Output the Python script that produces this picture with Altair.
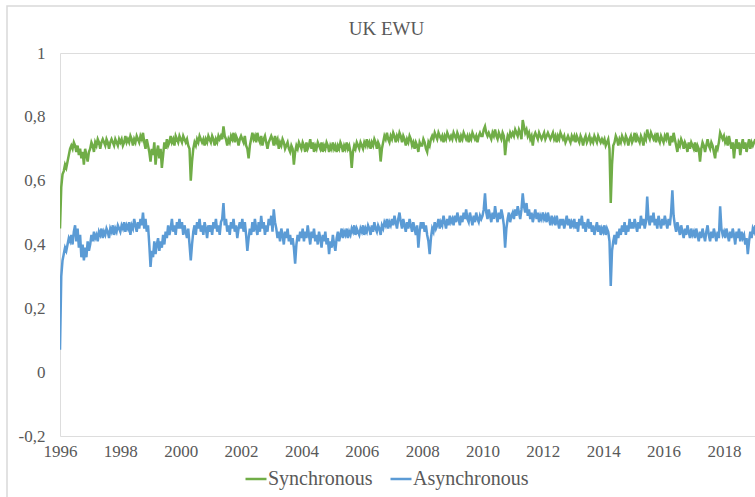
import altair as alt
import pandas as pd

# Semi-monthly observations (24 per year), starting January 1996
STEP = 1 / 24
START_YEAR = 1996

sync_1996 = [0.45, 0.58, 0.62, 0.63, 0.65, 0.64, 0.66, 0.68, 0.70, 0.71, 0.70, 0.72, 0.71, 0.69, 0.71, 0.68, 0.70, 0.67, 0.69, 0.65, 0.70, 0.68, 0.66, 0.69]
sync_1997 = [0.70, 0.72, 0.71, 0.69, 0.72, 0.71, 0.73, 0.72, 0.70, 0.72, 0.73, 0.72, 0.71, 0.73, 0.72, 0.70, 0.72, 0.73, 0.72, 0.71, 0.73, 0.72, 0.71, 0.73]
sync_1998 = [0.72, 0.73, 0.71, 0.72, 0.74, 0.72, 0.73, 0.72, 0.74, 0.73, 0.71, 0.73, 0.72, 0.74, 0.73, 0.72, 0.74, 0.73, 0.75, 0.72, 0.70, 0.73, 0.71, 0.69]
sync_1999 = [0.66, 0.70, 0.68, 0.72, 0.65, 0.69, 0.71, 0.67, 0.70, 0.64, 0.68, 0.72, 0.70, 0.73, 0.71, 0.72, 0.74, 0.72, 0.73, 0.71, 0.74, 0.73, 0.72, 0.74]
sync_2000 = [0.73, 0.72, 0.74, 0.73, 0.72, 0.73, 0.71, 0.70, 0.60, 0.66, 0.70, 0.72, 0.71, 0.73, 0.72, 0.74, 0.73, 0.72, 0.73, 0.71, 0.73, 0.72, 0.74, 0.73]
sync_2001 = [0.72, 0.74, 0.73, 0.71, 0.73, 0.72, 0.74, 0.73, 0.74, 0.73, 0.77, 0.74, 0.73, 0.71, 0.73, 0.72, 0.74, 0.73, 0.75, 0.72, 0.74, 0.73, 0.71, 0.73]
sync_2002 = [0.74, 0.73, 0.72, 0.74, 0.71, 0.70, 0.67, 0.71, 0.73, 0.75, 0.73, 0.74, 0.72, 0.75, 0.73, 0.72, 0.74, 0.71, 0.73, 0.74, 0.72, 0.70, 0.72, 0.73]
sync_2003 = [0.74, 0.73, 0.71, 0.74, 0.72, 0.73, 0.70, 0.72, 0.71, 0.73, 0.72, 0.70, 0.71, 0.72, 0.70, 0.69, 0.71, 0.70, 0.65, 0.69, 0.71, 0.70, 0.72, 0.71]
sync_2004 = [0.70, 0.72, 0.71, 0.69, 0.72, 0.70, 0.71, 0.73, 0.70, 0.72, 0.69, 0.71, 0.70, 0.72, 0.71, 0.70, 0.72, 0.69, 0.71, 0.70, 0.72, 0.71, 0.69, 0.71]
sync_2005 = [0.70, 0.72, 0.70, 0.71, 0.69, 0.71, 0.70, 0.72, 0.71, 0.69, 0.71, 0.70, 0.72, 0.70, 0.71, 0.69, 0.64, 0.69, 0.71, 0.70, 0.72, 0.71, 0.70, 0.72]
sync_2006 = [0.71, 0.70, 0.72, 0.71, 0.73, 0.71, 0.72, 0.70, 0.72, 0.71, 0.73, 0.72, 0.70, 0.72, 0.71, 0.66, 0.70, 0.72, 0.74, 0.73, 0.75, 0.73, 0.72, 0.74]
sync_2007 = [0.73, 0.75, 0.74, 0.72, 0.74, 0.73, 0.75, 0.74, 0.72, 0.74, 0.73, 0.71, 0.73, 0.72, 0.74, 0.73, 0.71, 0.72, 0.70, 0.72, 0.71, 0.69, 0.72, 0.71]
sync_2008 = [0.71, 0.73, 0.72, 0.70, 0.69, 0.72, 0.71, 0.73, 0.74, 0.73, 0.75, 0.74, 0.73, 0.75, 0.74, 0.73, 0.74, 0.72, 0.74, 0.73, 0.75, 0.74, 0.73, 0.74]
sync_2009 = [0.73, 0.75, 0.74, 0.73, 0.75, 0.74, 0.72, 0.74, 0.73, 0.75, 0.74, 0.73, 0.74, 0.72, 0.74, 0.73, 0.75, 0.74, 0.73, 0.74, 0.72, 0.74, 0.75, 0.74]
sync_2010 = [0.74, 0.76, 0.77, 0.75, 0.74, 0.75, 0.74, 0.73, 0.75, 0.74, 0.76, 0.74, 0.73, 0.75, 0.74, 0.73, 0.75, 0.74, 0.68, 0.72, 0.74, 0.73, 0.75, 0.74]
sync_2011 = [0.75, 0.74, 0.76, 0.75, 0.74, 0.76, 0.75, 0.73, 0.79, 0.77, 0.75, 0.76, 0.74, 0.75, 0.73, 0.74, 0.71, 0.74, 0.75, 0.74, 0.73, 0.75, 0.74, 0.73]
sync_2012 = [0.74, 0.75, 0.73, 0.74, 0.75, 0.74, 0.73, 0.74, 0.75, 0.73, 0.74, 0.72, 0.74, 0.73, 0.75, 0.74, 0.73, 0.74, 0.72, 0.73, 0.74, 0.73, 0.72, 0.74]
sync_2013 = [0.73, 0.74, 0.72, 0.74, 0.73, 0.72, 0.74, 0.73, 0.71, 0.73, 0.74, 0.72, 0.73, 0.74, 0.72, 0.73, 0.72, 0.74, 0.73, 0.72, 0.74, 0.73, 0.72, 0.73]
sync_2014 = [0.72, 0.73, 0.71, 0.72, 0.73, 0.70, 0.53, 0.65, 0.71, 0.72, 0.74, 0.73, 0.71, 0.73, 0.72, 0.74, 0.73, 0.72, 0.74, 0.73, 0.71, 0.73, 0.74, 0.72]
sync_2015 = [0.73, 0.75, 0.72, 0.74, 0.73, 0.72, 0.74, 0.73, 0.71, 0.74, 0.73, 0.76, 0.74, 0.73, 0.75, 0.74, 0.73, 0.74, 0.72, 0.75, 0.73, 0.72, 0.74, 0.73]
sync_2016 = [0.72, 0.74, 0.73, 0.75, 0.73, 0.71, 0.74, 0.72, 0.75, 0.73, 0.71, 0.69, 0.72, 0.71, 0.73, 0.72, 0.70, 0.72, 0.71, 0.69, 0.72, 0.70, 0.72, 0.71]
sync_2017 = [0.70, 0.72, 0.69, 0.71, 0.70, 0.66, 0.70, 0.72, 0.71, 0.69, 0.71, 0.73, 0.71, 0.70, 0.72, 0.71, 0.69, 0.67, 0.71, 0.70, 0.72, 0.75, 0.74, 0.73]
sync_2018 = [0.74, 0.72, 0.73, 0.71, 0.74, 0.72, 0.70, 0.72, 0.67, 0.71, 0.73, 0.70, 0.72, 0.68, 0.71, 0.73, 0.70, 0.72, 0.69, 0.71, 0.73, 0.70, 0.72, 0.71]
sync_2019 = [0.72, 0.73]

async_1996 = [0.07, 0.30, 0.35, 0.37, 0.39, 0.38, 0.40, 0.42, 0.41, 0.43, 0.40, 0.44, 0.46, 0.41, 0.45, 0.39, 0.43, 0.36, 0.40, 0.35, 0.39, 0.36, 0.41, 0.38]
async_1997 = [0.40, 0.43, 0.41, 0.44, 0.42, 0.43, 0.41, 0.44, 0.43, 0.45, 0.42, 0.44, 0.43, 0.45, 0.44, 0.42, 0.45, 0.44, 0.46, 0.43, 0.45, 0.44, 0.46, 0.45]
async_1998 = [0.44, 0.46, 0.45, 0.47, 0.44, 0.46, 0.45, 0.47, 0.43, 0.46, 0.45, 0.48, 0.46, 0.44, 0.47, 0.45, 0.48, 0.46, 0.50, 0.45, 0.48, 0.44, 0.46, 0.40]
async_1999 = [0.33, 0.38, 0.36, 0.41, 0.37, 0.40, 0.42, 0.38, 0.41, 0.39, 0.43, 0.40, 0.44, 0.42, 0.46, 0.43, 0.45, 0.48, 0.44, 0.46, 0.43, 0.47, 0.45, 0.48]
async_2000 = [0.45, 0.47, 0.43, 0.46, 0.44, 0.42, 0.45, 0.40, 0.35, 0.40, 0.44, 0.46, 0.43, 0.47, 0.45, 0.48, 0.44, 0.46, 0.43, 0.47, 0.45, 0.42, 0.46, 0.44]
async_2001 = [0.46, 0.43, 0.47, 0.45, 0.48, 0.44, 0.46, 0.43, 0.47, 0.48, 0.53, 0.46, 0.48, 0.44, 0.46, 0.43, 0.47, 0.45, 0.48, 0.44, 0.46, 0.42, 0.45, 0.47]
async_2002 = [0.45, 0.48, 0.44, 0.47, 0.43, 0.38, 0.42, 0.45, 0.43, 0.47, 0.44, 0.48, 0.45, 0.43, 0.47, 0.44, 0.49, 0.45, 0.47, 0.43, 0.46, 0.44, 0.48, 0.46]
async_2003 = [0.49, 0.44, 0.51, 0.47, 0.45, 0.42, 0.44, 0.41, 0.45, 0.43, 0.40, 0.44, 0.42, 0.45, 0.41, 0.43, 0.40, 0.42, 0.39, 0.34, 0.40, 0.43, 0.41, 0.44]
async_2004 = [0.42, 0.45, 0.41, 0.44, 0.42, 0.46, 0.43, 0.40, 0.44, 0.42, 0.45, 0.41, 0.43, 0.40, 0.44, 0.42, 0.39, 0.43, 0.41, 0.44, 0.40, 0.42, 0.37, 0.41]
async_2005 = [0.39, 0.43, 0.40, 0.38, 0.42, 0.44, 0.41, 0.43, 0.45, 0.42, 0.44, 0.43, 0.45, 0.42, 0.44, 0.43, 0.45, 0.44, 0.46, 0.43, 0.45, 0.44, 0.43, 0.45]
async_2006 = [0.44, 0.46, 0.43, 0.45, 0.44, 0.46, 0.45, 0.43, 0.46, 0.44, 0.47, 0.45, 0.44, 0.46, 0.45, 0.43, 0.46, 0.45, 0.47, 0.46, 0.48, 0.45, 0.47, 0.46]
async_2007 = [0.48, 0.46, 0.49, 0.47, 0.45, 0.48, 0.50, 0.47, 0.45, 0.48, 0.46, 0.44, 0.47, 0.45, 0.48, 0.46, 0.44, 0.47, 0.45, 0.43, 0.46, 0.39, 0.44, 0.47]
async_2008 = [0.45, 0.47, 0.44, 0.46, 0.43, 0.41, 0.37, 0.42, 0.45, 0.44, 0.47, 0.45, 0.46, 0.48, 0.45, 0.47, 0.46, 0.49, 0.47, 0.45, 0.48, 0.46, 0.49, 0.47]
async_2009 = [0.48, 0.46, 0.49, 0.47, 0.50, 0.48, 0.46, 0.49, 0.47, 0.50, 0.48, 0.51, 0.48, 0.47, 0.50, 0.48, 0.46, 0.49, 0.47, 0.50, 0.48, 0.47, 0.49, 0.48]
async_2010 = [0.49, 0.51, 0.56, 0.50, 0.48, 0.51, 0.49, 0.47, 0.50, 0.48, 0.52, 0.49, 0.47, 0.50, 0.48, 0.51, 0.49, 0.46, 0.39, 0.45, 0.48, 0.50, 0.47, 0.49]
async_2011 = [0.50, 0.48, 0.51, 0.49, 0.52, 0.50, 0.48, 0.51, 0.56, 0.52, 0.50, 0.53, 0.49, 0.51, 0.48, 0.50, 0.47, 0.49, 0.51, 0.48, 0.50, 0.47, 0.49, 0.48]
async_2012 = [0.50, 0.48, 0.49, 0.47, 0.50, 0.48, 0.46, 0.49, 0.47, 0.48, 0.46, 0.49, 0.47, 0.45, 0.48, 0.46, 0.48, 0.45, 0.47, 0.49, 0.46, 0.48, 0.45, 0.47]
async_2013 = [0.46, 0.48, 0.45, 0.47, 0.44, 0.48, 0.46, 0.49, 0.45, 0.47, 0.44, 0.46, 0.48, 0.45, 0.47, 0.44, 0.46, 0.43, 0.45, 0.47, 0.44, 0.46, 0.43, 0.45]
async_2014 = [0.44, 0.46, 0.43, 0.45, 0.44, 0.41, 0.27, 0.38, 0.41, 0.43, 0.40, 0.44, 0.42, 0.45, 0.43, 0.46, 0.44, 0.47, 0.43, 0.46, 0.44, 0.48, 0.45, 0.47]
async_2015 = [0.45, 0.48, 0.46, 0.44, 0.47, 0.45, 0.49, 0.46, 0.48, 0.45, 0.47, 0.55, 0.48, 0.46, 0.49, 0.47, 0.50, 0.46, 0.48, 0.45, 0.49, 0.47, 0.45, 0.48]
async_2016 = [0.46, 0.49, 0.47, 0.45, 0.48, 0.46, 0.50, 0.57, 0.49, 0.46, 0.44, 0.47, 0.45, 0.43, 0.46, 0.44, 0.42, 0.45, 0.43, 0.46, 0.44, 0.42, 0.45, 0.43]
async_2017 = [0.44, 0.42, 0.45, 0.43, 0.41, 0.44, 0.42, 0.45, 0.43, 0.41, 0.44, 0.46, 0.43, 0.41, 0.44, 0.42, 0.45, 0.43, 0.41, 0.44, 0.42, 0.52, 0.45, 0.43]
async_2018 = [0.44, 0.42, 0.45, 0.43, 0.41, 0.44, 0.42, 0.45, 0.43, 0.40, 0.44, 0.42, 0.45, 0.41, 0.44, 0.42, 0.43, 0.40, 0.42, 0.37, 0.41, 0.44, 0.42, 0.45]
async_2019 = [0.44, 0.46]

synchronous = (sync_1996 + sync_1997 + sync_1998 + sync_1999 + sync_2000 + sync_2001
               + sync_2002 + sync_2003 + sync_2004 + sync_2005 + sync_2006 + sync_2007
               + sync_2008 + sync_2009 + sync_2010 + sync_2011 + sync_2012 + sync_2013
               + sync_2014 + sync_2015 + sync_2016 + sync_2017 + sync_2018 + sync_2019)
asynchronous = (async_1996 + async_1997 + async_1998 + async_1999 + async_2000 + async_2001
                + async_2002 + async_2003 + async_2004 + async_2005 + async_2006 + async_2007
                + async_2008 + async_2009 + async_2010 + async_2011 + async_2012 + async_2013
                + async_2014 + async_2015 + async_2016 + async_2017 + async_2018 + async_2019)

series_names = ["Synchronous", "Asynchronous"]
series_colors = ["#70AD47", "#5B9BD5"]
year_ticks = list(range(1996, 2019, 2))
value_ticks = [-0.2, 0, 0.2, 0.4, 0.6, 0.8, 1]

rows = []
for name, values in zip(series_names, [synchronous, asynchronous]):
    for i, v in enumerate(values):
        rows.append({"year": START_YEAR + i * STEP, "value": v, "series": name})
df = pd.DataFrame(rows)

FONT = "Liberation Serif"
TEXT_GREY = "#595959"

lines = alt.Chart(df).mark_line(strokeWidth=2.5, clip=True).encode(
    x=alt.X(
        "year:Q",
        scale=alt.Scale(domain=[1996, 2019.03], nice=False, zero=False),
        axis=alt.Axis(
            values=year_ticks, format="d", title=None, grid=False, domain=False,
            ticks=False, labelPadding=7, labelFont=FONT, labelFontSize=17,
            labelColor=TEXT_GREY, labelFlush=False,
        ),
    ),
    y=alt.Y(
        "value:Q",
        scale=alt.Scale(domain=[-0.2, 1], nice=False, zero=False),
        axis=alt.Axis(
            values=value_ticks, title=None, grid=False, domain=False, ticks=False,
            labelPadding=15, labelFont=FONT, labelFontSize=17, labelColor=TEXT_GREY,
            labelExpr="replace(toString(datum.value), '.', ',')",
        ),
    ),
    color=alt.Color(
        "series:N",
        scale=alt.Scale(domain=series_names, range=series_colors),
        legend=alt.Legend(
            title=None, orient="none", direction="horizontal",
            legendX=184, legendY=414, symbolType="stroke", symbolSize=441,
            symbolStrokeWidth=2.5, labelFont=FONT, labelFontSize=20,
            labelColor=TEXT_GREY, labelOffset=0, columnPadding=12, padding=0,
        ),
    ),
    detail="series:N",
)

# light frame around the chart area
frame = alt.Chart(alt.Data(values=[{}])).mark_rect(
    fillOpacity=0, stroke="#D9D9D9", strokeWidth=1.5
).encode(
    x=alt.value(-53), x2=alt.value(900), y=alt.value(-47), y2=alt.value(800)
)

chart = alt.layer(frame, lines).properties(
    width=695,
    height=383,
    title=alt.TitleParams(
        "UK EWU", anchor="middle", frame="group", dx=-21, dy=67, offset=18,
        baseline="alphabetic", font=FONT, fontSize=19, fontWeight="normal",
        color=TEXT_GREY,
    ),
    autosize=alt.AutoSizeParams(type="none"),
    padding={"left": 60, "top": 53, "right": 0, "bottom": 61},
).configure_view(strokeOpacity=0).configure(background="white")

chart.save("out.html", embed_options={"renderer": "svg", "actions": False})
